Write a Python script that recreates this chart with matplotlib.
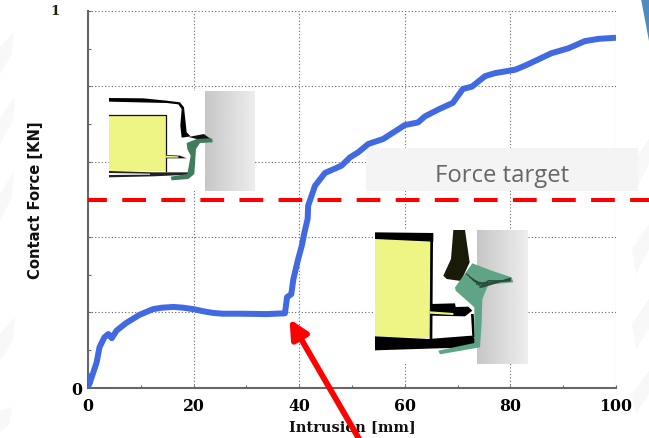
"""Contact force vs intrusion slide chart with the two deformation insets."""

import matplotlib

matplotlib.use("Agg")

import matplotlib.pyplot as plt  # noqa: E402
import numpy as np  # noqa: E402
from matplotlib.patches import Polygon, Rectangle  # noqa: E402

intrusion = [
    0.0, 0.1, 0.25, 1.0, 1.64, 2.18, 3.1, 3.85, 4.5, 5.4, 7.2, 9.75, 12.3, 14.0, 16.2,
    18.0, 20.0, 22.0, 23.7, 25.5, 28.8, 33.8, 37.3, 37.7, 38.5, 38.9, 39.8, 40.5, 41.0,
    41.6, 41.7, 43.0, 44.9, 48.0, 49.6, 51.2, 53.1, 55.9, 60.0, 62.5, 63.8, 66.3, 69.1,
    71.0, 72.7, 75.2, 77.1, 80.9, 82.8, 87.8, 91.0, 94.1, 96.7, 100.0,
]
contact_force = [
    0.0, 0.03, 0.009, 0.040, 0.067, 0.107, 0.133, 0.142, 0.131, 0.151, 0.171, 0.193,
    0.208, 0.212, 0.214, 0.212, 0.208, 0.202, 0.198, 0.196, 0.196, 0.195, 0.197, 0.240,
    0.248, 0.288, 0.341, 0.377, 0.412, 0.448, 0.483, 0.536, 0.570, 0.589, 0.611, 0.625,
    0.647, 0.660, 0.697, 0.704, 0.720, 0.738, 0.756, 0.793, 0.799, 0.827, 0.835, 0.844,
    0.855, 0.888, 0.901, 0.920, 0.926, 0.929,
]
force_target = 0.498
x_ticks = [0, 20, 40, 60, 80, 100]
y_ticks = [0, 0.2, 0.4, 0.6, 0.8, 1.0]

W, H = 649, 439
BLUE = "#4169e1"
RED = "#ff0000"
YELLOW = "#eef585"
GREEN = "#3f7d5c"
GREEN_LIGHT = "#5fa585"


def _poly(ov, pts, color, z=3, zoom_origin=(0, 0)):
    ox, oy = zoom_origin
    xy = [(ox + x / 3, oy + y / 3) for x, y in pts]
    ov.add_patch(Polygon(xy, closed=True, facecolor=color, edgecolor="none", zorder=z))


def _wall(ov, x0, x1, y0, y1):
    ramp = np.linspace(0.78, 0.93, 64).reshape(1, -1)
    ov.imshow(ramp, cmap="gray", vmin=0, vmax=1, extent=(x0, x1, y1, y0),
              aspect="auto", zorder=2)


def _left_inset(ov):
    ov.add_patch(Rectangle((109, 92), 96, 100, facecolor="white", edgecolor="none", zorder=1))
    _wall(ov, 205, 255, 92, 192)
    _poly(ov, [(327, 347), (498, 347), (498, 516), (327, 516)], YELLOW)
    ov.plot([109, 166, 166], [116, 116, 172], color="#111111", lw=0.9, zorder=4)
    _poly(ov, [(327, 297), (430, 298), (500, 305), (540, 310), (552, 325), (560, 400),
               (572, 412), (545, 416), (541, 380), (545, 330), (535, 316), (500, 312),
               (327, 308)], "black")
    _poly(ov, [(327, 516), (460, 520), (570, 520), (572, 527), (460, 532), (327, 535)], "#222222")
    _poly(ov, [(327, 522), (450, 524), (450, 527), (327, 528)], "white", z=4)
    _poly(ov, [(498, 468), (540, 470), (560, 478), (498, 478)], "#111111")
    _poly(ov, [(498, 470), (535, 472), (535, 476), (498, 476)], YELLOW, z=4)
    _poly(ov, [(560, 432), (590, 420), (612, 408), (637, 420), (638, 430), (600, 432),
               (588, 450), (583, 525), (565, 540), (515, 544), (512, 533), (562, 525),
               (572, 470), (562, 450)], GREEN)
    _poly(ov, [(565, 414), (612, 405), (628, 418), (590, 420)], "#111111", z=4)


def _right_inset(ov):
    origin = (325, 220)
    ov.add_patch(Rectangle((375, 231), 102, 134, facecolor="white", edgecolor="none", zorder=1))
    _wall(ov, 477, 528, 231, 365)
    _poly(ov, [(150, 55), (318, 62), (318, 358), (150, 352)], YELLOW, zoom_origin=origin)
    _poly(ov, [(150, 40), (325, 42), (325, 68), (150, 60)], "black", zoom_origin=origin)
    _poly(ov, [(316, 60), (324, 60), (322, 360), (314, 360)], "black", zoom_origin=origin)
    _poly(ov, [(150, 352), (310, 360), (440, 350), (465, 372), (450, 385), (340, 388),
               (150, 394)], "black", zoom_origin=origin)
    _poly(ov, [(318, 255), (390, 253), (392, 264), (430, 263), (442, 275), (420, 292),
               (320, 290)], "black", zoom_origin=origin)
    _poly(ov, [(438, 285), (446, 285), (450, 355), (442, 355)], "black", zoom_origin=origin)
    _poly(ov, [(315, 277), (385, 282), (385, 288), (315, 284)], YELLOW, z=4, zoom_origin=origin)
    _poly(ov, [(385, 33), (420, 33), (434, 130), (408, 186), (365, 180), (355, 170),
               (378, 120)], "#1a1a08", zoom_origin=origin)
    _poly(ov, [(442, 133), (500, 155), (560, 175), (565, 190), (490, 197), (472, 240),
               (470, 310), (465, 385), (345, 406), (340, 395), (448, 372), (448, 265),
               (392, 215), (390, 205)], GREEN_LIGHT, z=4, zoom_origin=origin)
    for off in (0, 10, 20, 30, 40):
        ov.plot([325 + (425 + off) / 3, 325 + (470 + off / 2) / 3, 325 + 555 / 3],
                [220 + (165 + off) / 3, 220 + (205 - off / 2) / 3, 220 + (178 + off / 5) / 3],
                color="#2a4a3a", lw=0.9, zorder=5)


def _slide_marks(ov):
    # corner of the slide template and the faint shards behind the chart
    ov.add_patch(Polygon([(641, 0), (649, 0), (649, 42)], facecolor="#4f8bc0", edgecolor="none", zorder=6))
    for pts in ([(0, 48), (14, 32), (12, 55), (0, 75)],
                [(0, 118), (15, 98), (13, 122), (0, 145)],
                [(0, 195), (14, 172), (12, 198), (0, 222)],
                [(0, 335), (15, 318), (13, 342), (0, 362)],
                [(0, 412), (12, 408), (9, 426), (0, 434)],
                [(632, 165), (649, 140), (649, 165), (636, 190)],
                [(632, 250), (649, 225), (649, 250), (636, 275)],
                [(632, 325), (649, 300), (649, 330), (636, 350)],
                [(632, 395), (649, 372), (649, 395), (636, 415)]):
        ov.add_patch(Polygon(pts, facecolor="#f8f8f9", edgecolor="none", zorder=0))


fig = plt.figure(figsize=(W / 100, H / 100), dpi=100)
ax = fig.add_axes([88 / W, (H - 388.5) / H, 528 / W, 376.5 / H])
ax.set_facecolor("none")
ax.set_xlim(0, 100)
ax.set_ylim(0, 1)

ax.set_xticks(x_ticks)
ax.set_xticks(range(10, 100, 20), minor=True)
ax.set_yticks(y_ticks)
ax.set_yticks(np.arange(0.1, 1.0, 0.2), minor=True)
ax.set_xticklabels([str(v) for v in x_ticks], family="DejaVu Serif", fontweight="bold", fontsize=11.3)
ax.set_yticklabels(["0", "", "", "", "", ""], family="DejaVu Serif", fontweight="bold", fontsize=11.3)
ax.tick_params(which="both", direction="in", color="#666666", length=2, width=0.8)
ax.tick_params(axis="x", pad=7)
ax.tick_params(axis="y", pad=4)

ax.grid(True, which="major", color="#666666", linestyle=(0, (1, 2)), linewidth=0.8)
ax.set_axisbelow(True)
for side in ("top", "right"):
    ax.spines[side].set_visible(False)
for side in ("left", "bottom"):
    ax.spines[side].set_color("#666666")
    ax.spines[side].set_linewidth(1.5)

# figure-wide overlay in pixel coordinates, for the slide decoration
back = fig.add_axes([0, 0, 1, 1], zorder=-1)
back.set_xlim(0, W)
back.set_ylim(H, 0)
back.axis("off")
_slide_marks(back)

mid = fig.add_axes([0, 0, 1, 1], zorder=3)
mid.patch.set_alpha(0)
mid.axis("off")
_left_inset(mid)
_right_inset(mid)
mid.add_patch(Rectangle((366, 149), 272, 43, facecolor="#f4f4f4", edgecolor="none", zorder=1))
mid.set_xlim(0, W)
mid.set_ylim(H, 0)

top = fig.add_axes([88 / W, (H - 388.5) / H, 528 / W, 376.5 / H], zorder=4, sharex=ax, sharey=ax)
top.patch.set_alpha(0)
top.axis("off")
top.plot(intrusion, contact_force, color=BLUE, lw=4.3, solid_capstyle="butt", solid_joinstyle="round")
top.plot([0, 106.3], [force_target, force_target], color=RED, lw=2.9, clip_on=False,
         linestyle=(1.2, (5.9, 3.8)), dash_capstyle="butt")

over = fig.add_axes([0, 0, 1, 1], zorder=5)
over.patch.set_alpha(0)
over.axis("off")
over.set_xlim(0, W)
over.set_ylim(H, 0)
over.text(502, 176.5, "Force target", ha="center", va="center", family="Open Sans",
          fontsize=17.2, color="#666666")
over.text(55, 11.5, "1", ha="center", va="center", family="DejaVu Serif", fontweight="bold",
          fontsize=9.5, color="#222211")
over.text(352.5, 427, "Intrusion [mm]", ha="center", va="center", family="DejaVu Serif",
          fontweight="bold", fontsize=10.5, color="#111111")
over.text(35.5, 200.5, "Contact Force [KN]", ha="center", va="center", rotation=90,
          family="DejaVu Sans", fontweight="bold", fontsize=10.6, color="#111111")
over.annotate("", xy=(289.5, 320), xytext=(362, 445), annotation_clip=False,
              arrowprops=dict(arrowstyle="-|>,head_width=0.42,head_length=0.85", color=RED,
                              lw=4.2, mutation_scale=13, shrinkA=0, shrinkB=0))

fig.savefig("out.png", dpi=100)
plt.close(fig)
